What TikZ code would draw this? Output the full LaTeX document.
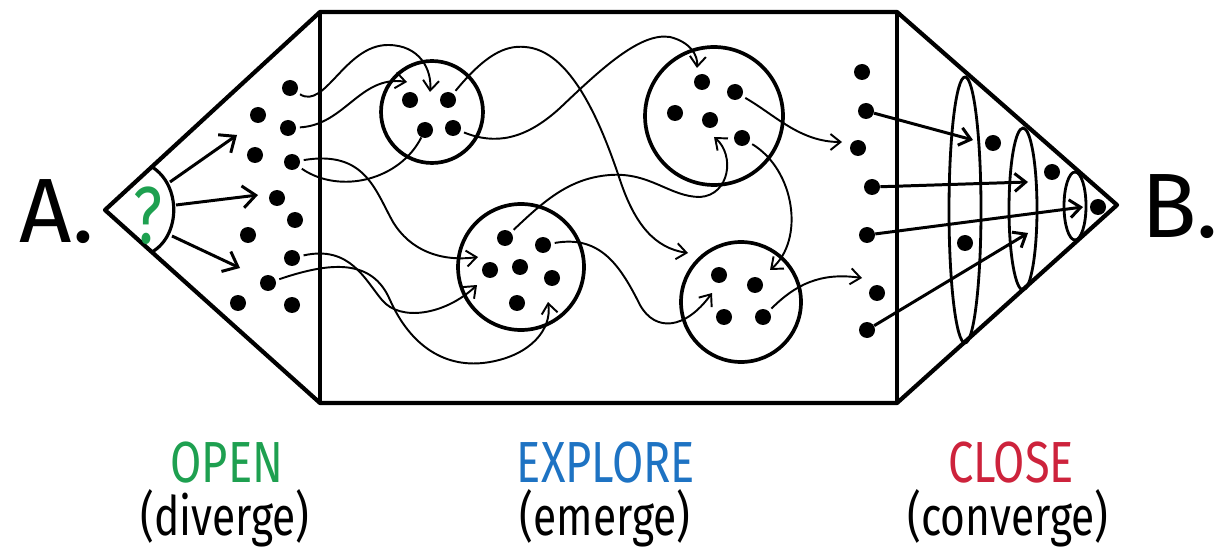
\documentclass[tikz,border=0pt]{standalone}
\usepackage{fontspec}
\usepackage{xcolor}
\usepackage{tikz}
\usetikzlibrary{arrows.meta,shapes.geometric}
\newfontfamily\handfont{Fira Sans}[FakeStretch=0.78]
\newfontfamily\bigfont{Fira Sans}
\definecolor{opengreen}{RGB}{30,160,80}
\definecolor{exploreblue}{RGB}{30,115,195}
\definecolor{closered}{RGB}{205,35,60}

\begin{document}
\begin{tikzpicture}[x=0.02cm, y=-0.02cm,
                    dot/.style={circle, fill, inner sep=0pt, minimum size=3.2mm},
                    cluster/.style={circle, draw, line width=2.1pt, inner sep=0pt},
                    ring/.style={ellipse, draw, line width=1.6pt, inner sep=0pt},
                    rim/.style={line width=2.4pt, line join=round},
                    link/.style={line width=1.1pt, shorten <=2pt,
                                 -{Straight Barb[length=2mm, width=3.2mm]}},
                    spread/.style={line width=1.7pt, -{Straight Barb[length=2.6mm, width=4.4mm]}},
                    pull/.style={line width=1.7pt, -{Straight Barb[length=2.2mm, width=3.6mm]}},
                    hand/.style={inner sep=0pt, font=\handfont\fontsize{33}{36}\selectfont},
                    note/.style={inner sep=0pt, font=\handfont\fontsize{31}{34}\selectfont},
                    endlabel/.style={font=\bigfont\fontsize{52}{56}\selectfont}]
  \useasboundingbox (0,0) rectangle (1229,550);

  \coordinate (a) at (105,210);
  \coordinate (tl) at (320,12);
  \coordinate (bl) at (320,403);
  \coordinate (tr) at (897,12);
  \coordinate (br) at (897,403);
  \coordinate (b) at (1117,205);
  \draw[rim] (a) -- (tl) -- (tr) -- (b) -- (br) -- (bl) -- cycle;
  \draw[rim] (tl) -- (bl);
  \draw[rim] (tr) -- (br);

  \node[endlabel] (pa) at (57,212) {A.};
  \node[endlabel] (pb) at (1180,207) {B.};

  % open
  \coordinate (q1) at (152,167);
  \coordinate (q2) at (152,252);
  \draw[line width=1.8pt] (q1) .. controls (181,185) and (181,235) .. (q2);
  \node[inner sep=0pt, text=opengreen, font=\handfont\fontsize{46}{50}\selectfont] (q) at (148,216) {?};
  \coordinate (q3) at (170,182);
  \coordinate (q4) at (176,205);
  \coordinate (q5) at (172,236);
  \coordinate (v1) at (237,135);
  \coordinate (v2) at (258,195);
  \coordinate (v3) at (240,268);
  \draw[spread] (q3) -- (v1);
  \draw[spread] (q4) -- (v2);
  \draw[spread] (q5) -- (v3);

  \node[dot] (l1) at (290,88) {};
  \node[dot] (l2) at (258,115) {};
  \node[dot] (l3) at (288,128) {};
  \node[dot] (l4) at (255,155) {};
  \node[dot] (l5) at (292,162) {};
  \node[dot] (l6) at (277,198) {};
  \node[dot] (l7) at (295,220) {};
  \node[dot] (l8) at (248,235) {};
  \node[dot] (l9) at (292,258) {};
  \node[dot] (l10) at (268,283) {};
  \node[dot] (l11) at (238,303) {};
  \node[dot] (l12) at (292,305) {};

  % explore
  \node[cluster, minimum size=2.04cm] (ca) at (432,112) {};
  \node[dot] (a1) at (410,100) {};
  \node[dot] (a2) at (448,100) {};
  \node[dot] (a3) at (425,130) {};
  \node[dot] (a4) at (453,128) {};

  \node[cluster, minimum size=2.52cm] (cb) at (521,267) {};
  \node[dot] (b1) at (505,238) {};
  \node[dot] (b2) at (543,245) {};
  \node[dot] (b3) at (490,270) {};
  \node[dot] (b4) at (520,267) {};
  \node[dot] (b5) at (552,278) {};
  \node[dot] (b6) at (517,303) {};

  \node[cluster, minimum size=2.76cm] (cc) at (714,116) {};
  \node[dot] (c1) at (702,82) {};
  \node[dot] (c2) at (735,92) {};
  \node[dot] (c3) at (675,113) {};
  \node[dot] (c4) at (710,120) {};
  \node[dot] (c5) at (742,138) {};

  \node[cluster, minimum size=2.4cm] (cd) at (741,302) {};
  \node[dot] (d1) at (719,275) {};
  \node[dot] (d2) at (755,285) {};
  \node[dot] (d3) at (724,317) {};
  \node[dot] (d4) at (763,317) {};

  \node[dot] (r1) at (862,72) {};
  \node[dot] (r2) at (866,111) {};
  \node[dot] (r3) at (858,148) {};
  \node[dot] (r4) at (872,187) {};
  \node[dot] (r5) at (867,235) {};
  \node[dot] (r6) at (877,293) {};
  \node[dot] (r7) at (867,330) {};

  \coordinate (t1) at (430,92);
  \coordinate (t2) at (407,82);
  \coordinate (t3) at (478,257);
  \coordinate (t5) at (688,253);
  \coordinate (t6) at (697,68);
  \coordinate (t7) at (714,137);
  \coordinate (t8) at (712,293);
  \coordinate (t9) at (770,270);
  \coordinate (t10) at (842,142);
  \coordinate (t11) at (862,278);
  \coordinate (t12) at (548,302);
  \coordinate (t13) at (477,285);

  \draw[link] (l1) .. controls (325,110) and (345,45) .. (388,45)
              .. controls (420,45) and (432,70) .. (t1);
  \draw[link] (l3) .. controls (345,125) and (360,75) .. (t2);
  \draw[link] (l5) .. controls (365,150) and (375,190) .. (393,222)
              .. controls (410,250) and (440,262) .. (t3);
  \draw[link, -] (l5) .. controls (340,195) and (400,180) .. (a3);
  \draw[link] (a2) .. controls (485,55) and (505,45) .. (525,47)
              .. controls (570,50) and (600,120) .. (620,180)
              .. controls (635,225) and (655,248) .. (t5);
  \draw[link] (a4) .. controls (495,145) and (525,140) .. (560,108)
              .. controls (600,70) and (640,32) .. (670,37)
              .. controls (690,42) and (698,55) .. (t6);
  \draw[link] (b1) .. controls (545,200) and (570,178) .. (610,175)
              .. controls (650,172) and (670,197) .. (700,197)
              .. controls (730,195) and (735,155) .. (t7);
  \draw[link] (b2) .. controls (600,235) and (620,265) .. (640,305)
              .. controls (655,332) and (685,330) .. (t8);
  \draw[link] (c5) .. controls (795,170) and (805,240) .. (t9);
  \draw[link] (c2) .. controls (775,115) and (800,142) .. (t10);
  \draw[link] (d4) .. controls (795,285) and (820,272) .. (t11);
  \draw[link] (l10) .. controls (330,262) and (372,258) .. (390,300)
              .. controls (410,345) and (445,370) .. (490,362)
              .. controls (530,355) and (552,330) .. (t12);
  \draw[link] (l9) .. controls (350,245) and (365,280) .. (382,300)
              .. controls (400,322) and (445,315) .. (t13);

  % close
  \node[ring, minimum width=0.64cm, minimum height=5.32cm] (e1) at (965,210) {};
  \node[ring, minimum width=0.56cm, minimum height=3.24cm] (e2) at (1023,209) {};
  \node[ring, minimum width=0.44cm, minimum height=1.36cm] (e3) at (1075,206) {};
  \node[dot] (z1) at (993,143) {};
  \node[dot] (z2) at (1052,172) {};
  \node[dot] (z3) at (1098,207) {};
  \node[dot] (z4) at (965,243) {};
  \coordinate (u1) at (973,140);
  \coordinate (u2) at (1028,182);
  \coordinate (u3) at (1083,207);
  \coordinate (u4) at (1028,233);
  \draw[pull] (r2) -- (u1);
  \draw[pull] (r4) -- (u2);
  \draw[pull] (r5) -- (u3);
  \draw[pull] (r7) -- (u4);

  \node[hand, text=opengreen] (open) at (227,463) {OPEN};
  \node[note] (div) at (225,518) {(diverge)};
  \node[hand, text=exploreblue] (expl) at (606,463) {EXPLORE};
  \node[note] (emer) at (605,518) {(emerge)};
  \node[hand, text=closered] (clos) at (1011,463) {CLOSE};
  \node[note] (conv) at (1008,518) {(converge)};
\end{tikzpicture}
\end{document}
